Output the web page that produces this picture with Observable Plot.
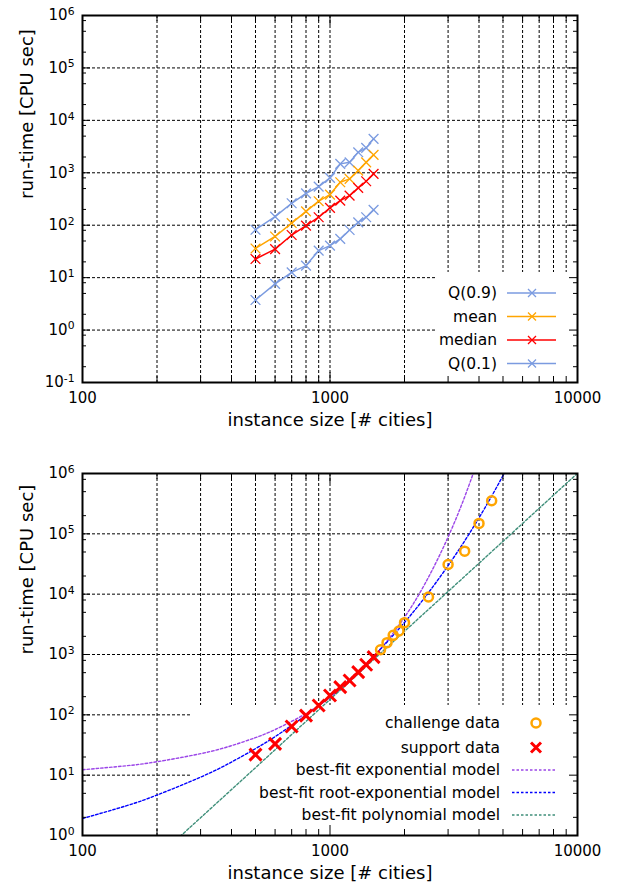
<!DOCTYPE html>
<html><head><meta charset="utf-8">
<script src="https://cdn.jsdelivr.net/npm/d3@7"></script>
<script src="https://cdn.jsdelivr.net/npm/@observablehq/plot@0.6"></script>
<style>body{margin:0;background:#fff} svg{display:block}</style>
</head><body>
<script>
// ---------- data ----------
const sizes = [500, 600, 700, 800, 900, 1000, 1100, 1200, 1300, 1400, 1500];
const q90    = [82, 146, 262, 406, 546, 798, 1479, 1585, 2460, 2985, 4436];
const meanV  = [36, 61, 110, 184, 287, 384, 660, 764, 1102, 1585, 2193];
const median = [22.7, 35, 65, 98, 142, 214, 295, 367, 514, 689, 953];
const q10    = [3.75, 7.6, 12.6, 17, 32.7, 40.8, 54.7, 81, 113, 142, 196];

const supportSizes = [500, 600, 700, 800, 900, 1000, 1100, 1200, 1300, 1400, 1500];
const supportTimes = [21.9, 33, 64, 97, 143, 209, 288, 371, 511, 676, 906];
const challengeSizes = [1600, 1700, 1800, 1900, 2000, 2500, 3000, 3500, 4000, 4500];
const challengeTimes = [1200, 1570, 2076, 2448, 3373, 8990, 31000, 51600, 149000, 353000];

// best-fit model curves
const expSizes  = [100, 150, 200, 300, 400, 500, 600, 800, 1000, 1200, 1500, 2000, 2500, 3000, 3500, 4000];
const expTimes  = [12.3, 14.3, 16.7, 22.7, 30.8, 41.9, 56.9, 105, 194, 357, 895, 4140, 19100, 88500, 409000, 1890000];
const rootSizes = [100, 150, 200, 300, 400, 500, 600, 800, 1000, 1200, 1500, 2000, 2500, 3000, 3500, 4000, 4500, 5000, 5500];
const rootTimes = [1.91, 3.10, 4.68, 9.27, 16.5, 27.5, 43.5, 98.5, 202, 387, 935, 3400, 10600, 29700, 76400, 184000, 422000, 923000, 1940000];
const polySizes = [200, 300, 500, 700, 1000, 2000, 3000, 5000, 7000, 10000];
const polyTimes = [0.43, 1.97, 13.3, 47.2, 180, 2420, 11060, 75000, 265000, 1010000];

// axes
const xMajor = [100, 1000, 10000];
const xMinor = [200, 300, 400, 500, 600, 700, 800, 900, 2000, 3000, 4000, 5000, 6000, 7000, 8000, 9000];
const xGrid  = [200, 300, 400, 500, 600, 700, 800, 900, 1000, 2000, 3000, 4000, 5000, 6000, 7000, 8000, 9000];
const yMajorTop = [0.1, 1, 10, 100, 1000, 10000, 100000, 1000000];
const yGridTop  = [1, 10, 100, 1000, 10000, 100000];
const yMajorBot = [1, 10, 100, 1000, 10000, 100000, 1000000];
const yGridBot  = [10, 100, 1000, 10000, 100000];
const minorMult = [2, 5, 8];

const seriesNames = ["Q(0.9)", "mean", "median", "Q(0.1)"];
const seriesColors = {"Q(0.9)": "#7b9be0", "mean": "#ffa500", "median": "#ff0000", "Q(0.1)": "#7b9be0"};
const seriesValues = {"Q(0.9)": q90, "mean": meanV, "median": median, "Q(0.1)": q10};
const C_EXP = "#9b45e8", C_ROOT = "#0000ff", C_POLY = "#3f8f7a";
const C_CHAL = "#ffa500", C_SUP = "#ff0000";

const W = 617, H = 444, ML = 82, MR = 40;
const FONT = "DejaVu Sans";

function minorTicks(majors) {
  const out = [];
  for (const m of majors.slice(0, -1)) for (const k of minorMult) out.push(m * k);
  return out;
}

function chart({yDomain, yMajor, yGrid, mt, mb, dataMarks}) {
  const ph = H - mt - mb, pw = W - ML - MR;
  const tk = {stroke: "black", strokeWidth: 1};
  const yMinor = minorTicks(yMajor);
  return Plot.plot({
    width: W, height: H,
    marginLeft: ML, marginRight: MR, marginTop: mt, marginBottom: mb,
    style: {fontFamily: FONT, fontSize: "15px", background: "white", overflow: "visible"},
    x: {type: "log", domain: [100, 10000], axis: null},
    y: {type: "log", domain: yDomain, axis: null},
    marks: [
      Plot.ruleX(xGrid, {x: d => d, stroke: "black", strokeWidth: 1, strokeDasharray: "3,2"}),
      Plot.ruleY(yGrid, {y: d => d, stroke: "black", strokeWidth: 1, strokeDasharray: "3,2"}),
      ...dataMarks,
      // inside ticks on all four sides
      Plot.ruleX(xMajor, {x: d => d, insetTop: ph - 10, ...tk}),
      Plot.ruleX(xMajor, {x: d => d, insetBottom: ph - 10, ...tk}),
      Plot.ruleX(xMinor, {x: d => d, insetTop: ph - 6, ...tk}),
      Plot.ruleX(xMinor, {x: d => d, insetBottom: ph - 6, ...tk}),
      Plot.ruleY(yMajor, {y: d => d, insetRight: pw - 8, ...tk}),
      Plot.ruleY(yMajor, {y: d => d, insetLeft: pw - 8, ...tk}),
      Plot.ruleY(yMinor, {y: d => d, insetRight: pw - 4, ...tk}),
      Plot.ruleY(yMinor, {y: d => d, insetLeft: pw - 4, ...tk}),
      Plot.frame({stroke: "black", strokeWidth: 2}),
      Plot.text(xMajor, {x: d => d, frameAnchor: "bottom", dy: 20, text: d => String(d), fontSize: 15, fill: "black"}),
      Plot.text(yMajor, {y: d => d, frameAnchor: "left", dx: -8, textAnchor: "end",
        text: d => "10^" + Math.round(Math.log10(d)), fontSize: 15, fill: "black"}),
      Plot.text(["instance size [# cities]"], {frameAnchor: "bottom", dy: 43, text: d => d, fontSize: 18, fill: "black"}),
      Plot.text(["run-time [CPU sec]"], {frameAnchor: "left", dx: -55, rotate: -90, text: d => d, fontSize: 18, fill: "black"})
    ]
  });
}

function superscripts(svg) {
  d3.select(svg).selectAll("text").each(function () {
    const s = this.textContent;
    if (!s.startsWith("10^")) return;
    const [b, e] = s.split("^");
    const t = d3.select(this);
    t.text(b);
    t.append("tspan").attr("dy", "-0.5em").attr("font-size", "0.72em").text(e);
  });
}

function legendBox(svg, x, y, w, h) {
  // insert right after the two grid groups (first two mark groups)
  const groups = Array.from(svg.children).filter(el => el.tagName.toLowerCase() === "g");
  const r = document.createElementNS("http://www.w3.org/2000/svg", "rect");
  r.setAttribute("x", x); r.setAttribute("y", y);
  r.setAttribute("width", w); r.setAttribute("height", h);
  r.setAttribute("fill", "white");
  svg.insertBefore(r, groups[2]);
}

// ---------- top chart ----------
const topRows = seriesNames.flatMap(s => sizes.map((n, i) => ({series: s, n, t: seriesValues[s][i]})));
const topMarks = seriesNames.flatMap(s => {
  const rows = topRows.filter(d => d.series === s);
  return [
    Plot.line(rows, {x: "n", y: "t", stroke: seriesColors[s], strokeWidth: 1.5}),
    Plot.dot(rows, {x: "n", y: "t", symbol: "times", r: 4.5, stroke: seriesColors[s], strokeWidth: 1.3})
  ];
});
const svgTop = chart({yDomain: [0.1, 1e6], yMajor: yMajorTop, yGrid: yGridTop, mt: 15, mb: 62, dataMarks: topMarks});
superscripts(svgTop);
legendBox(svgTop, 436, 272, 141, 110);
{
  const g = d3.select(svgTop).append("g").attr("font-family", FONT).attr("font-size", 15.5);
  const ys = [293, 316.5, 340, 363.5];
  seriesNames.forEach((s, i) => {
    const y = ys[i], c = seriesColors[s];
    g.append("text").attr("x", 497).attr("y", y).attr("dy", "0.35em").attr("text-anchor", "end").text(s);
    g.append("line").attr("x1", 507).attr("x2", 556).attr("y1", y).attr("y2", y).attr("stroke", c).attr("stroke-width", 1.5);
    g.append("path").attr("d", `M528,${y - 4}L536,${y + 4}M528,${y + 4}L536,${y - 4}`).attr("stroke", c).attr("stroke-width", 1.3);
  });
}
document.body.appendChild(svgTop);

// ---------- bottom chart ----------
const expRows = expSizes.map((n, i) => ({n, t: expTimes[i]}));
const rootRows = rootSizes.map((n, i) => ({n, t: rootTimes[i]}));
const polyRows = polySizes.map((n, i) => ({n, t: polyTimes[i]}));
const supRows = supportSizes.map((n, i) => ({n, t: supportTimes[i]}));
const chalRows = challengeSizes.map((n, i) => ({n, t: challengeTimes[i]}));
const dash = "2.5,2";
const botMarks = [
  Plot.line(expRows, {x: "n", y: "t", stroke: C_EXP, strokeWidth: 1.4, strokeDasharray: dash, curve: "natural", clip: true}),
  Plot.line(rootRows, {x: "n", y: "t", stroke: C_ROOT, strokeWidth: 1.4, strokeDasharray: dash, curve: "natural", clip: true}),
  Plot.line(polyRows, {x: "n", y: "t", stroke: C_POLY, strokeWidth: 1.4, strokeDasharray: dash, curve: "natural", clip: true}),
  Plot.dot(supRows, {x: "n", y: "t", symbol: "times", r: 5.5, stroke: C_SUP, strokeWidth: 3}),
  Plot.dot(chalRows, {x: "n", y: "t", r: 4.5, stroke: C_CHAL, strokeWidth: 2.5, fill: "none"})
];
const svgBot = chart({yDomain: [1, 1e6], yMajor: yMajorBot, yGrid: yGridBot, mt: 29, mb: 53, dataMarks: botMarks});
superscripts(svgBot);
legendBox(svgBot, 191, 261, 386, 130);
{
  const g = d3.select(svgBot).append("g").attr("font-family", FONT).attr("font-size", 15.5);
  const entries = [
    {label: "challenge data", kind: "circle", c: C_CHAL, y: 279},
    {label: "support data", kind: "x", c: C_SUP, y: 303.5},
    {label: "best-fit exponential model", kind: "dash", c: C_EXP, y: 326},
    {label: "best-fit root-exponential model", kind: "dash", c: C_ROOT, y: 348.5},
    {label: "best-fit polynomial model", kind: "dash", c: C_POLY, y: 371}
  ];
  for (const e of entries) {
    g.append("text").attr("x", 500).attr("y", e.y).attr("dy", "0.35em").attr("text-anchor", "end").text(e.label);
    if (e.kind === "circle") g.append("circle").attr("cx", 536).attr("cy", e.y).attr("r", 4.5).attr("fill", "none").attr("stroke", e.c).attr("stroke-width", 2.5);
    else if (e.kind === "x") g.append("path").attr("d", `M531,${e.y - 5}L541,${e.y + 5}M531,${e.y + 5}L541,${e.y - 5}`).attr("stroke", e.c).attr("stroke-width", 3);
    else g.append("line").attr("x1", 512).attr("x2", 557).attr("y1", e.y).attr("y2", e.y).attr("stroke", e.c).attr("stroke-width", 1.4).attr("stroke-dasharray", dash);
  }
}
document.body.appendChild(svgBot);
</script>
</body></html>
